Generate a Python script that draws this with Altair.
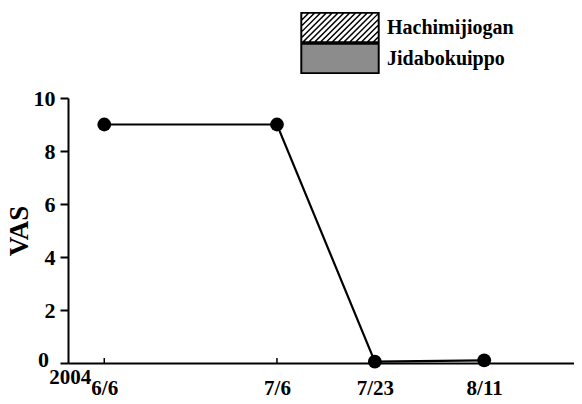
import altair as alt
import pandas as pd

# ---- data ----
dates = ["6/6", "7/6", "7/23", "8/11"]
days = [0, 30, 47, 66]          # days after 2004-06-06
vas = [9, 9, 0.05, 0.1]
tick_days = [0, 30]
year_label = "2004"
y_ticks = [0, 2, 4, 6, 8, 10]
treatments = ["Hachimijiogan", "Jidabokuippo"]
treatment_fills = ["white", "#8c8c8c"]

FONT = "Liberation Serif"
W, H = 506, 265


def hatch_path(h=0.4, step=0.15):
    parts = [f"M-1,-{h}H1V{h}H-1Z", f"M-0.985,-{h-0.03}H0.985V{h-0.03}H-0.985Z"]
    x0 = -1 - 2 * h + step / 2
    while x0 < 1:
        xa, ya = x0, h
        xb, yb = x0 + 2 * h, -h
        if xa < -1:
            ya = h - (-1 - xa)
            xa = -1
        if xb > 1:
            yb = -h + (xb - 1)
            xb = 1
        parts.append(f"M{xa:.3f},{ya:.3f}L{xb:.3f},{yb:.3f}")
        x0 += step
    return "".join(parts)


def rect_path(h=0.4):
    return f"M-1,-{h}H1V{h}H-1Z" + f"M-0.985,-{h-0.03}H0.985V{h-0.03}H-0.985Z"


df = pd.DataFrame({"day": days, "vas": vas, "date": dates})
ticks_df = pd.DataFrame({"day": tick_days})
year_df = pd.DataFrame({"label": [year_label]})
zero_df = pd.DataFrame({"v": [y_ticks[0]], "label": [str(y_ticks[0])]})
leg_df = pd.DataFrame({"treatment": treatments})

label_expr = "".join(
    f"datum.value == {d} ? '{lab}' : " for d, lab in zip(days, dates)
) + "''"

xscale = alt.Scale(domain=[-6.3, 81.6], nice=False, zero=False)
yscale = alt.Scale(domain=[0, 10], nice=False)

xaxis = alt.Axis(
    values=days, labelExpr=label_expr, ticks=False, grid=False, title=None,
    domainColor="black", domainWidth=2, labelFont=FONT, labelFontSize=21,
    labelFontWeight="bold", labelColor="black", labelPadding=14, labelFlush=False,
)
yaxis = alt.Axis(
    values=y_ticks, grid=False, title="VAS", titleFont=FONT,
    labelExpr="datum.value == 0 ? '' : datum.label",
    titleFontSize=27, titleFontWeight="bold", titleColor="black", titlePadding=0,
    domainColor="black", domainWidth=2, tickColor="black", tickWidth=2, tickSize=8,
    labelFont=FONT, labelFontSize=22, labelFontWeight="bold", labelColor="black",
    labelPadding=5,
)

base = alt.Chart(df).encode(
    x=alt.X("day:Q", scale=xscale, axis=xaxis),
    y=alt.Y("vas:Q", scale=yscale, axis=yaxis),
)
line = base.mark_line(color="black", strokeWidth=2.2)
dots = base.mark_circle(size=190, color="black", opacity=1)

ticks = alt.Chart(ticks_df).mark_rule(color="black", strokeWidth=1.5).encode(
    x=alt.X("day:Q", scale=xscale),
    y=alt.value(H),
    y2=alt.value(H - 5),
)

zero_label = alt.Chart(zero_df).mark_text(
    font=FONT, fontSize=22, fontWeight="bold", color="black",
    align="right", baseline="middle", dy=-3,
).encode(
    x=alt.value(-19),
    y=alt.Y("v:Q", scale=yscale),
    text="label:N",
)

year = alt.Chart(year_df).mark_text(
    font=FONT, fontSize=21, fontWeight="bold", color="black", baseline="middle",
).encode(
    x=alt.datum(-5.9),
    y=alt.value(H + 15),
    text="label:N",
)

legend = alt.Legend(
    title=None, orient="none", legendX=232, legendY=-86,
    symbolSize=6084, symbolStrokeWidth=1.4,
    symbolOpacity=1, clipHeight=31, rowPadding=0, padding=0,
    labelFont=FONT, labelFontSize=20, labelFontWeight="bold", labelColor="black",
    labelOffset=7,
)
leg_layer = alt.Chart(leg_df).mark_point(
    filled=True, opacity=0, stroke="black", strokeWidth=1.4
).encode(
    fill=alt.Fill("treatment:N", scale=alt.Scale(domain=treatments, range=treatment_fills), legend=legend),
    shape=alt.Shape("treatment:N", scale=alt.Scale(domain=treatments, range=[hatch_path(), rect_path()]), legend=legend),
)

chart = alt.layer(line, dots, ticks, zero_label, year, leg_layer).properties(
    width=W, height=H,
    autosize=alt.AutoSizeParams(type="none"),
    padding={"left": 60, "top": 90, "right": 0, "bottom": 33},
).configure_view(stroke=None)

chart.save("out.html", embed_options={"renderer": "svg", "actions": False})
